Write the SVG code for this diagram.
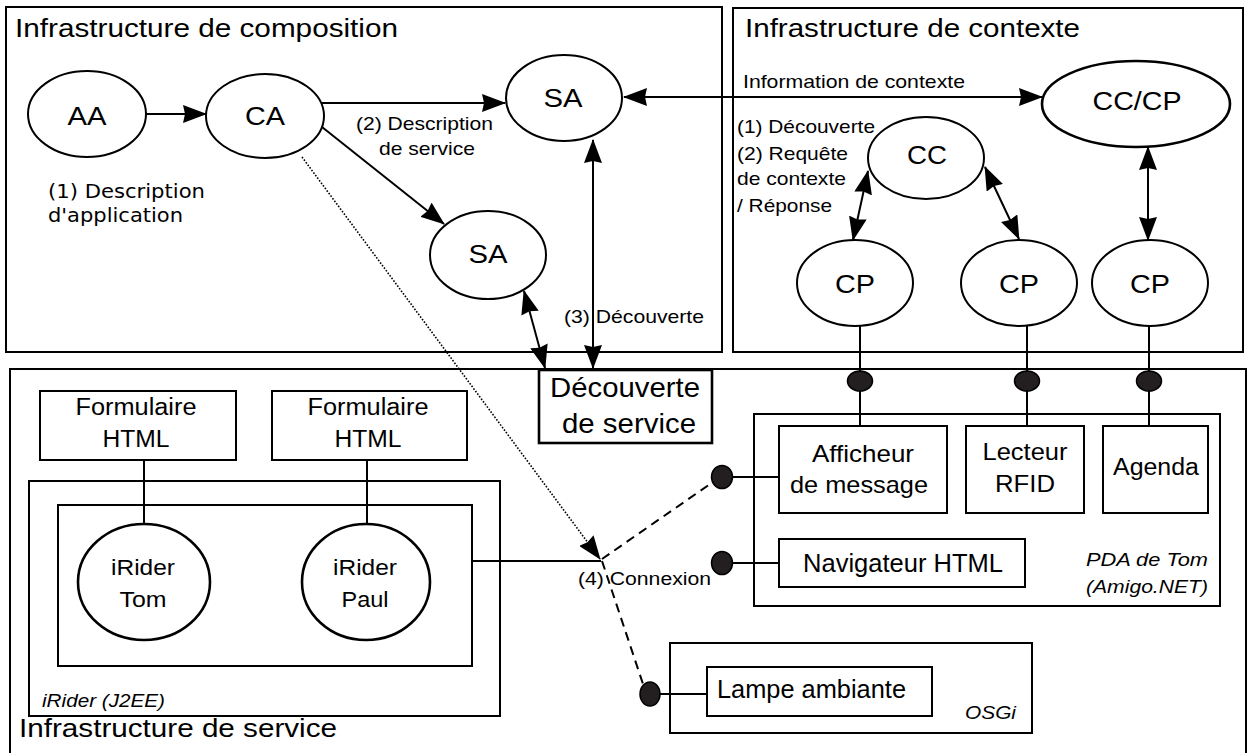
<svg xmlns="http://www.w3.org/2000/svg" width="1251" height="753" viewBox="0 0 1251 753">
<defs>
<style>
.box{fill:none;stroke:#000;stroke-width:2}
.wbox{fill:#fff;stroke:#000;stroke-width:2}
.ell{fill:#fff;stroke:#000;stroke-width:2}
.thick{stroke-width:2.6}
.ln{fill:none;stroke:#000;stroke-width:2}
.arr{fill:none;stroke:#000;stroke-width:2;marker-end:url(#ah)}
.bi{fill:none;stroke:#000;stroke-width:2;marker-end:url(#ah);marker-start:url(#ah)}
.dot{fill:none;stroke:#000;stroke-width:1.6;stroke-dasharray:1.6 1.6;marker-end:url(#ah)}
.dash{fill:none;stroke:#000;stroke-width:2;stroke-dasharray:9 6}
.lol{fill:#231f20;stroke:#000;stroke-width:1.5}
text{font-family:"Liberation Sans",Arial,sans-serif;fill:#000}
.t{font-size:26px}
.n{font-size:25px;text-anchor:middle}
.s{font-size:19px}
.m{font-size:23px}
.i{font-style:italic;font-size:18px}
</style>
<marker id="ah" markerUnits="userSpaceOnUse" markerWidth="24" markerHeight="18" refX="23" refY="9" orient="auto-start-reverse" viewBox="0 0 24 18">
<path d="M0,0 L24,9 L0,18 L2,9 z" fill="#000"/>
</marker>
</defs>
<rect width="1251" height="753" fill="#fff"/>

<g id="composition">
<rect class="box" x="6" y="7" width="716" height="345"/>
<text class="t" x="15" y="37" textLength="383" lengthAdjust="spacingAndGlyphs">Infrastructure de composition</text>
</g>
<g id="contexte">
<rect class="box" x="733" y="8" width="510" height="344"/>
<text class="t" x="745" y="37" textLength="335" lengthAdjust="spacingAndGlyphs">Infrastructure de contexte</text>
</g>
<g id="service">
<rect class="box" x="10" y="369" width="1236" height="400"/>
<text class="t" x="19" y="737" textLength="318" lengthAdjust="spacingAndGlyphs">Infrastructure de service</text>
</g>

<g id="connectors">
<line class="arr" x1="146" y1="114" x2="206" y2="114"/>
<line class="arr" x1="321" y1="103" x2="505" y2="103"/>
<line class="arr" x1="322" y1="127" x2="444" y2="224"/>
<line class="bi" x1="624" y1="97" x2="1042" y2="97"/>
<line class="bi" x1="593" y1="140" x2="593" y2="368"/>
<line class="bi" x1="524" y1="291" x2="545" y2="368"/>
<line class="bi" x1="868" y1="171" x2="853" y2="240"/>
<line class="bi" x1="985" y1="167" x2="1019" y2="239"/>
<line class="bi" x1="1148" y1="147" x2="1148" y2="240"/>
<line class="dot" x1="302" y1="157" x2="600" y2="559"/>
<line class="ln" x1="472" y1="561" x2="601" y2="561"/>
<line class="dash" x1="602" y1="559" x2="713" y2="482"/>
<line class="dash" x1="602" y1="561" x2="643" y2="684"/>
<line class="ln" x1="860" y1="326" x2="860" y2="426"/>
<line class="ln" x1="1027" y1="326" x2="1027" y2="426"/>
<line class="ln" x1="1149" y1="326" x2="1149" y2="426"/>
<line class="ln" x1="733" y1="477" x2="779" y2="477"/>
<line class="ln" x1="733" y1="563" x2="779" y2="563"/>
<line class="ln" x1="660" y1="694" x2="707" y2="694"/>
<line class="ln" x1="144" y1="460" x2="144" y2="524"/>
<line class="ln" x1="367" y1="460" x2="367" y2="524"/>
<ellipse class="lol" cx="860" cy="381" rx="12.5" ry="10"/>
<ellipse class="lol" cx="1027" cy="381" rx="12.5" ry="10"/>
<ellipse class="lol" cx="1149" cy="381" rx="12.5" ry="10"/>
<ellipse class="lol" cx="722" cy="477" rx="10.5" ry="11.5"/>
<ellipse class="lol" cx="722" cy="563" rx="10.5" ry="11.5"/>
<ellipse class="lol" cx="650" cy="694" rx="10" ry="12"/>
</g>

<g id="labels">
<text style="font-family:'DejaVu Sans',sans-serif;font-size:20px" x="48" y="198" textLength="157" lengthAdjust="spacingAndGlyphs">(1) Description</text>
<text style="font-family:'DejaVu Sans',sans-serif;font-size:20px" x="48" y="222" textLength="135" lengthAdjust="spacingAndGlyphs">d'application</text>
<text class="s" x="356" y="130" textLength="137" lengthAdjust="spacingAndGlyphs">(2) Description</text>
<text class="s" x="379" y="155" textLength="96" lengthAdjust="spacingAndGlyphs">de service</text>
<text class="s" x="743" y="88" textLength="222" lengthAdjust="spacingAndGlyphs">Information de contexte</text>
<text class="s" x="737" y="133" textLength="138" lengthAdjust="spacingAndGlyphs">(1) Découverte</text>
<text class="s" x="737" y="160" textLength="111" lengthAdjust="spacingAndGlyphs">(2) Requête</text>
<text class="s" x="737" y="185" textLength="109" lengthAdjust="spacingAndGlyphs">de contexte</text>
<text class="s" x="737" y="212" textLength="95" lengthAdjust="spacingAndGlyphs">/ Réponse</text>
<text class="s" x="564" y="323" textLength="140" lengthAdjust="spacingAndGlyphs">(3) Découverte</text>
<text class="s" style="font-size:18px" x="578" y="585" textLength="133" lengthAdjust="spacingAndGlyphs">(4) Connexion</text>
</g>

<g id="AA"><ellipse class="ell" cx="87" cy="114" rx="59" ry="43"/><text class="n" x="87" y="125" textLength="39" lengthAdjust="spacingAndGlyphs">AA</text></g>
<g id="CA"><ellipse class="ell" cx="265" cy="116" rx="59" ry="42"/><text class="n" x="265" y="125" textLength="40" lengthAdjust="spacingAndGlyphs">CA</text></g>
<g id="SA1"><ellipse class="ell" cx="564" cy="98" rx="58" ry="43"/><text class="n" x="563" y="107" textLength="39" lengthAdjust="spacingAndGlyphs">SA</text></g>
<g id="SA2"><ellipse class="ell" cx="488" cy="255" rx="58" ry="44"/><text class="n" x="488" y="263" textLength="39" lengthAdjust="spacingAndGlyphs">SA</text></g>
<g id="CCCP"><ellipse class="ell thick" cx="1136" cy="104" rx="94" ry="43"/><text class="n" x="1137" y="110" textLength="89" lengthAdjust="spacingAndGlyphs">CC/CP</text></g>
<g id="CC"><ellipse class="ell" cx="926" cy="158" rx="58" ry="41"/><text class="n" x="927" y="164" textLength="40" lengthAdjust="spacingAndGlyphs">CC</text></g>
<g id="CP1"><ellipse class="ell" cx="855" cy="283" rx="58" ry="43"/><text class="n" x="855" y="293" textLength="40" lengthAdjust="spacingAndGlyphs">CP</text></g>
<g id="CP2"><ellipse class="ell" cx="1019" cy="283" rx="58" ry="43"/><text class="n" x="1019" y="293" textLength="40" lengthAdjust="spacingAndGlyphs">CP</text></g>
<g id="CP3"><ellipse class="ell" cx="1150" cy="283" rx="58" ry="43"/><text class="n" x="1150" y="293" textLength="40" lengthAdjust="spacingAndGlyphs">CP</text></g>

<g id="decouverte">
<rect class="wbox thick" x="539" y="370" width="173" height="73"/>
<text x="625" y="397" style="font-size:28px;text-anchor:middle" textLength="150" lengthAdjust="spacingAndGlyphs">Découverte</text>
<text x="629" y="433" style="font-size:28px;text-anchor:middle" textLength="134" lengthAdjust="spacingAndGlyphs">de service</text>
</g>

<g id="form1"><rect class="box" x="40" y="391" width="196" height="69"/>
<text class="m" x="136" y="415" text-anchor="middle" textLength="121" lengthAdjust="spacingAndGlyphs">Formulaire</text>
<text class="m" x="136" y="447" text-anchor="middle" textLength="67" lengthAdjust="spacingAndGlyphs">HTML</text></g>
<g id="form2"><rect class="box" x="272" y="391" width="195" height="69"/>
<text class="m" x="368" y="415" text-anchor="middle" textLength="121" lengthAdjust="spacingAndGlyphs">Formulaire</text>
<text class="m" x="368" y="447" text-anchor="middle" textLength="67" lengthAdjust="spacingAndGlyphs">HTML</text></g>

<g id="irider">
<rect class="box" x="29" y="481" width="471" height="235"/>
<rect class="box" x="58" y="505" width="414" height="161"/>
<text class="i" x="42" y="707" textLength="123" lengthAdjust="spacingAndGlyphs">iRider (J2EE)</text>
</g>
<g id="iriderTom"><ellipse class="ell thick" cx="144" cy="582" rx="66" ry="58"/>
<text class="m" style="font-size:22px" x="143" y="575" text-anchor="middle" textLength="64" lengthAdjust="spacingAndGlyphs">iRider</text>
<text class="m" style="font-size:22px" x="143" y="607" text-anchor="middle" textLength="47" lengthAdjust="spacingAndGlyphs">Tom</text></g>
<g id="iriderPaul"><ellipse class="ell thick" cx="366" cy="582" rx="64" ry="58"/>
<text class="m" style="font-size:22px" x="365" y="575" text-anchor="middle" textLength="64" lengthAdjust="spacingAndGlyphs">iRider</text>
<text class="m" style="font-size:22px" x="365" y="607" text-anchor="middle" textLength="47" lengthAdjust="spacingAndGlyphs">Paul</text></g>

<g id="pda">
<rect class="box" x="754" y="414" width="466" height="192"/>
<text class="i" x="1208" y="566" text-anchor="end" textLength="122" lengthAdjust="spacingAndGlyphs">PDA de Tom</text>
<text class="i" x="1208" y="593" text-anchor="end" textLength="122" lengthAdjust="spacingAndGlyphs">(Amigo.NET)</text>
</g>
<g id="afficheur"><rect class="wbox" x="779" y="426" width="168" height="87"/>
<text class="m" style="font-size:24px" x="863" y="462" text-anchor="middle" textLength="102" lengthAdjust="spacingAndGlyphs">Afficheur</text>
<text class="m" style="font-size:24px" x="859" y="493" text-anchor="middle" textLength="138" lengthAdjust="spacingAndGlyphs">de message</text></g>
<g id="lecteur"><rect class="wbox" x="966" y="426" width="118" height="87"/>
<text class="m" x="1025" y="460" text-anchor="middle" textLength="85" lengthAdjust="spacingAndGlyphs">Lecteur</text>
<text class="m" x="1025" y="492" text-anchor="middle" textLength="60" lengthAdjust="spacingAndGlyphs">RFID</text></g>
<g id="agenda"><rect class="wbox" x="1103" y="426" width="105" height="87"/>
<text class="m" x="1156" y="475" text-anchor="middle" textLength="86" lengthAdjust="spacingAndGlyphs">Agenda</text></g>
<g id="navigateur"><rect class="wbox" x="779" y="539" width="246" height="48"/>
<text class="m" style="font-size:25px" x="903" y="572" text-anchor="middle" textLength="200" lengthAdjust="spacingAndGlyphs">Navigateur HTML</text></g>

<g id="osgi">
<rect class="box" x="670" y="643" width="362" height="90"/>
<text class="i" style="font-size:17.5px" x="965" y="719" textLength="51" lengthAdjust="spacingAndGlyphs">OSGi</text>
</g>
<g id="lampe"><rect class="wbox" x="707" y="667" width="225" height="49"/>
<text class="m" style="font-size:25px" x="717" y="698" textLength="189" lengthAdjust="spacingAndGlyphs">Lampe ambiante</text></g>
</svg>
